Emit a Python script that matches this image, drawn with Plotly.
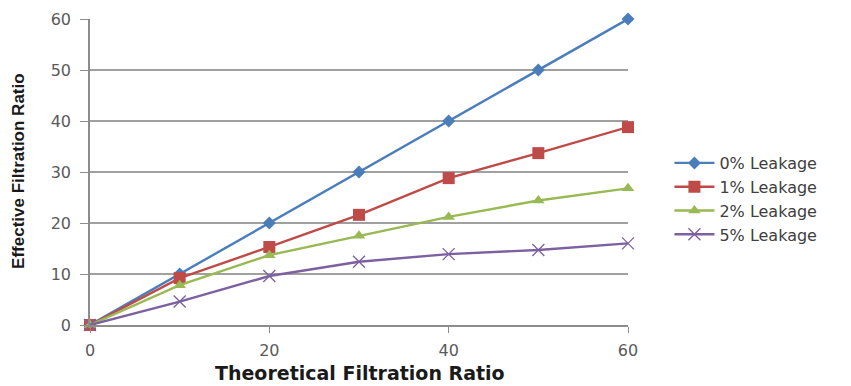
import plotly.graph_objects as go

# Theoretical filtration ratio (x) and effective ratio for each leakage level
theoretical = [0, 10, 20, 30, 40, 50, 60]
leak_0 = [0, 10, 20, 30, 40, 50, 60]
leak_1 = [0, 9.2, 15.3, 21.6, 28.8, 33.7, 38.8]
leak_2 = [0, 7.8, 13.7, 17.5, 21.2, 24.4, 26.8]
leak_5 = [0, 4.6, 9.6, 12.4, 13.9, 14.7, 16.0]

series_names = ["0% Leakage", "1% Leakage", "2% Leakage", "5% Leakage"]
series_values = [leak_0, leak_1, leak_2, leak_5]
colors = ["#4A7EBB", "#BE4B48", "#98B954", "#7D60A0"]
symbols = ["diamond", "square", "triangle-up", "x-thin-open"]
sizes = [10, 12, 11, 12]

fig = go.Figure()
for name, vals, c, s, sz in zip(series_names, series_values, colors, symbols, sizes):
    fig.add_trace(go.Scatter(
        x=theoretical, y=vals, name=name, mode="lines+markers",
        line=dict(color=c, width=2.4),
        marker=dict(symbol=s, size=sz, color=c,
                    line=dict(color=c, width=1.3 if s == "x-thin-open" else 0)),
        cliponaxis=False,
    ))

axis_font = dict(family="DejaVu Sans, sans-serif", size=16, color="#5A5A5A")

fig.update_layout(
    width=851, height=386,
    margin=dict(l=90, r=223, t=19, b=61),
    paper_bgcolor="white", plot_bgcolor="white",
    showlegend=True,
    legend=dict(
        x=1.077, y=0.585, xanchor="left", yanchor="top",
        font=dict(family="DejaVu Sans, sans-serif", size=16, color="#404040"),
        tracegroupgap=0, itemwidth=40,
    ),
    xaxis=dict(
        range=[0, 60], tickvals=[0, 20, 40, 60], ticks="outside", ticklen=6,
        tickcolor="#8C8C8C", showline=True, linecolor="#8C8C8C", linewidth=1.5,
        showgrid=False, zeroline=False, tickfont=axis_font, ticklabelstandoff=4,
        automargin=False,
    ),
    yaxis=dict(
        range=[0, 60], dtick=10, ticks="outside", ticklen=8,
        tickcolor="#8C8C8C", showline=True, linecolor="#8C8C8C", linewidth=1.5,
        showgrid=True, gridcolor="#A0A0A0", gridwidth=1.5, zeroline=False,
        tickfont=axis_font, ticklabelstandoff=6, automargin=False,
    ),
    annotations=[
        dict(text="Theoretical Filtration Ratio", xref="paper", yref="paper",
             x=0.502, y=-0.157, xanchor="center", yanchor="middle", showarrow=False,
             font=dict(family="DejaVu Sans, sans-serif", size=19, color="#1a1a1a", weight="bold")),
        dict(text="Effective Filtration Ratio", xref="paper", yref="paper",
             x=-0.133, y=0.505, xanchor="center", yanchor="middle", showarrow=False,
             textangle=-90,
             font=dict(family="Liberation Sans, Arial, sans-serif", size=17, color="#1a1a1a", weight="bold")),
    ],
)

fig.write_html("out.html")
